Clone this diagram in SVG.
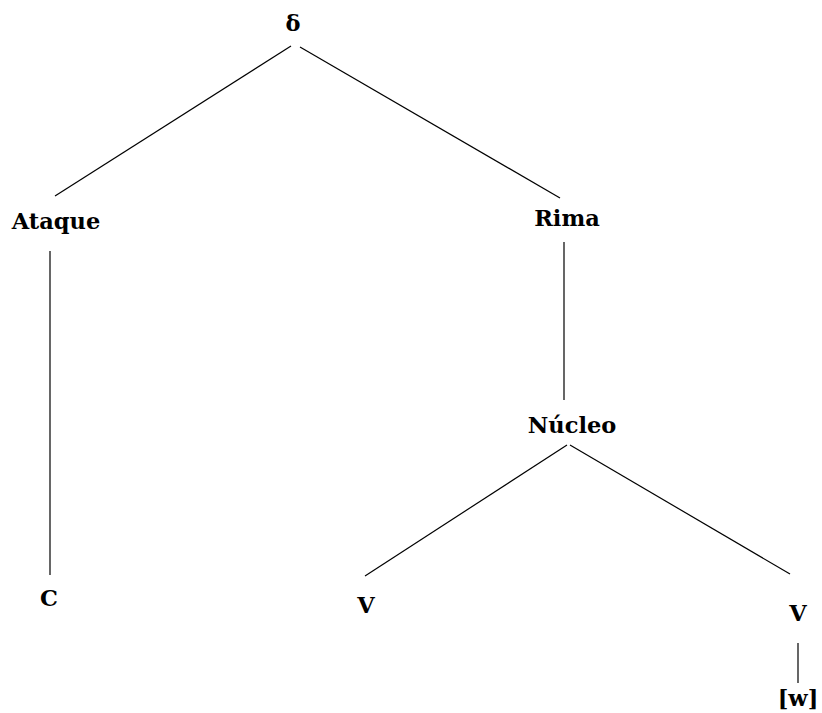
<svg xmlns="http://www.w3.org/2000/svg" width="822" height="713" viewBox="0 0 822 713">
<style>
text{font-family:"DejaVu Serif","Liberation Serif",serif;font-weight:bold;font-size:22.5px;fill:#000}
line{stroke:#000;stroke-width:1.2}
</style>
<rect width="822" height="713" fill="#fff"/>
<g id="connectors">
<line x1="291" y1="46" x2="55" y2="196"/>
<line x1="300" y1="47" x2="560" y2="198"/>
<line x1="50" y1="251" x2="50" y2="575"/>
<line x1="564" y1="242" x2="564" y2="400"/>
<line x1="567" y1="445" x2="365" y2="576"/>
<line x1="570" y1="445" x2="790" y2="574"/>
<line x1="798" y1="643" x2="798" y2="683"/>
</g>
<g id="n-syl"><text x="293" y="31" text-anchor="middle">δ</text></g>
<g id="n-ataque"><text x="56" y="229" text-anchor="middle">Ataque</text></g>
<g id="n-rima"><text x="567" y="226" text-anchor="middle">Rima</text></g>
<g id="n-nucleo"><text x="572" y="433" text-anchor="middle">Núcleo</text></g>
<g id="n-c"><text x="49" y="606" text-anchor="middle">C</text></g>
<g id="n-v1"><text x="366" y="613" text-anchor="middle">V</text></g>
<g id="n-v2"><text x="798" y="621" text-anchor="middle">V</text></g>
<g id="n-w"><text x="798" y="706" text-anchor="middle">[w]</text></g>
</svg>
